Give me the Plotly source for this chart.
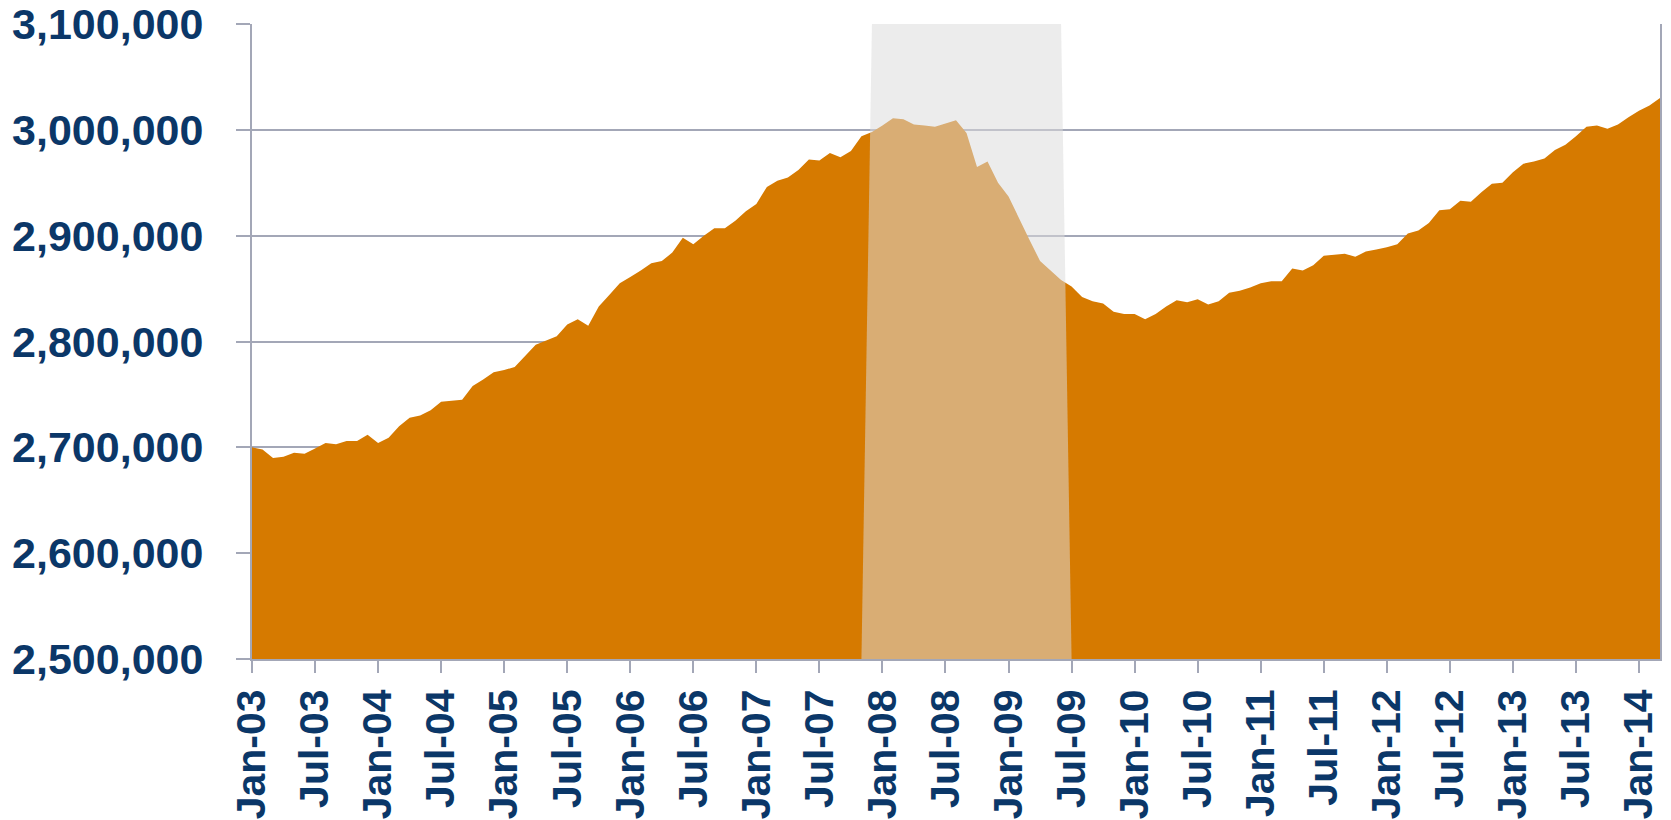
import pandas as pd
import plotly.graph_objects as go

# monthly series, Jan-2003 .. Mar-2014
start_month = "2003-01-01"
values = [
    2700000, 2698000, 2690000, 2691000, 2695000, 2694000, 2699000, 2704000, 2703000, 2706000, 2706000, 2712000,
    2704000, 2709000, 2720000, 2728000, 2730000, 2735000, 2743000, 2744000, 2745000, 2758000, 2764000, 2771000,
    2773000, 2776000, 2786000, 2797000, 2801000, 2805000, 2816000, 2821000, 2815000, 2833000, 2844000, 2855000,
    2861000, 2867000, 2874000, 2876000, 2884000, 2898000, 2892000, 2900000, 2907000, 2907000, 2914000, 2923000,
    2930000, 2946000, 2952000, 2955000, 2962000, 2972000, 2971000, 2978000, 2974000, 2980000, 2994000, 2998000,
    3004000, 3011000, 3010000, 3005000, 3004000, 3003000, 3006000, 3009000, 2997000, 2965000, 2970000, 2950000,
    2937000, 2916000, 2896000, 2876000, 2867000, 2858000, 2852000, 2842000, 2838000, 2836000, 2828000, 2826000,
    2826000, 2821000, 2826000, 2833000, 2839000, 2837000, 2840000, 2835000, 2838000, 2846000, 2848000, 2851000,
    2855000, 2857000, 2857000, 2869000, 2867000, 2872000, 2881000, 2882000, 2883000, 2880000, 2885000, 2887000,
    2889000, 2892000, 2902000, 2905000, 2912000, 2924000, 2925000, 2933000, 2932000, 2941000, 2949000, 2950000,
    2960000, 2968000, 2970000, 2973000, 2981000, 2986000, 2994000, 3003000, 3004000, 3001000, 3005000, 3012000,
    3018000, 3023000, 3030000,
]
recession_start = "2007-12-01"
recession_end = "2009-06-01"
tick_labels = ["Jan-03", "Jul-03", "Jan-04", "Jul-04", "Jan-05", "Jul-05", "Jan-06", "Jul-06",
               "Jan-07", "Jul-07", "Jan-08", "Jul-08", "Jan-09", "Jul-09", "Jan-10", "Jul-10",
               "Jan-11", "Jul-11", "Jan-12", "Jul-12", "Jan-13", "Jul-13", "Jan-14"]

y_min, y_max = 2500000, 3100000

months = pd.date_range(start_month, periods=len(values), freq="MS")
idx = list(range(len(values)))
in_rec = [(m >= pd.Timestamp(recession_start)) and (m <= pd.Timestamp(recession_end)) for m in months]

# band: one month either side drops to the axis floor, like an Excel area series
band_x, band_y = [], []
for i, flag in enumerate(in_rec):
    near = flag or (i + 1 < len(in_rec) and in_rec[i + 1]) or (i > 0 and in_rec[i - 1])
    if near:
        band_x.append(i)
        band_y.append(y_max if flag else y_min)

navy = "#0B3768"
grid = "#A3A7B7"

fig = go.Figure()
fig.add_trace(go.Scatter(
    x=idx, y=values, mode="lines", line=dict(width=0),
    fill="tozeroy", fillcolor="#D67A00", hoverinfo="skip", showlegend=False,
))
fig.add_trace(go.Scatter(
    x=band_x, y=band_y, mode="lines", line=dict(width=0),
    fill="tozeroy", fillcolor="rgba(220,220,220,0.53)", hoverinfo="skip", showlegend=False,
))

# page body has an 8px margin, so the figure is a bit smaller than the window
fig.update_layout(
    width=1663, height=812,
    margin=dict(l=244, r=11, t=16, b=161),
    paper_bgcolor="white", plot_bgcolor="white",
    font=dict(family="Liberation Sans, Arial, sans-serif", color=navy),
    xaxis=dict(
        range=[0, len(values) - 1], automargin=False,
        tickmode="array", tickvals=idx[::6][:len(tick_labels)], ticktext=tick_labels,
        tickangle=-90, tickfont=dict(size=41, weight="bold", color=navy),
        ticks="outside", ticklen=12, tickwidth=2, tickcolor=grid,
        ticklabeloverflow="allow",
        showline=True, linecolor=grid, linewidth=2,
        showgrid=False, zeroline=False,
    ),
    yaxis=dict(
        range=[y_min, y_max], dtick=100000, tickformat=",", automargin=False,
        tickfont=dict(size=43, weight="bold", color=navy),
        ticks="outside", ticklen=14, tickwidth=2, tickcolor=grid,
        ticklabelstandoff=24, ticklabeloverflow="allow",
        showline=True, linecolor=grid, linewidth=2, mirror=True,
        showgrid=True, gridcolor=grid, gridwidth=2, zeroline=False,
    ),
)

fig.write_html("out.html")
